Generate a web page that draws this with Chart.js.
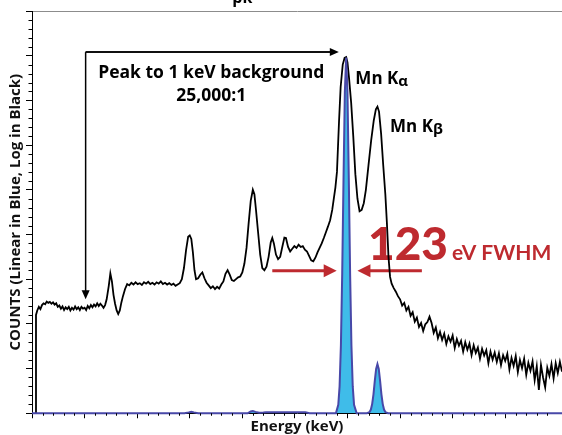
<!DOCTYPE html>
<html>
<head>
<meta charset="utf-8">
<script src="https://cdn.jsdelivr.net/npm/chart.js@4.4.1/dist/chart.umd.min.js"></script>
<style>
  html, body { margin: 0; padding: 0; background: #fff; }
</style>
</head>
<body>
<canvas id="spectrumChart" width="562" height="435"></canvas>
<script>
// black trace (log display) - energy in keV, counts in axis units
const logEnergy = [
  0.07, 0.076, 0.10, 0.13, 0.16, 0.19, 0.22, 0.25, 0.28, 0.31,
  0.34, 0.37, 0.40, 0.43, 0.46, 0.49, 0.52, 0.55, 0.58, 0.61,
  0.64, 0.67, 0.70, 0.73, 0.76, 0.79, 0.82, 0.85, 0.88, 0.91,
  0.94, 0.97, 1.00, 1.03, 1.06, 1.09, 1.12, 1.15, 1.18, 1.21,
  1.24, 1.27, 1.30, 1.33, 1.36, 1.39, 1.42, 1.46, 1.49, 1.52,
  1.55, 1.58, 1.61, 1.64, 1.67, 1.70, 1.73, 1.77, 1.81, 1.85,
  1.89, 1.93, 1.97, 2.01, 2.05, 2.09, 2.13, 2.17, 2.21, 2.25,
  2.29, 2.33, 2.37, 2.41, 2.45, 2.49, 2.53, 2.57, 2.61, 2.65,
  2.69, 2.73, 2.77, 2.81, 2.85, 2.89, 2.93, 2.97, 3.00, 3.03,
  3.06, 3.09, 3.12, 3.16, 3.20, 3.24, 3.28, 3.32, 3.36, 3.40,
  3.44, 3.48, 3.52, 3.56, 3.60, 3.64, 3.68, 3.72, 3.76, 3.80,
  3.84, 3.88, 3.92, 3.96, 4.00, 4.04, 4.08, 4.12, 4.16, 4.20,
  4.23, 4.26, 4.30, 4.34, 4.38, 4.42, 4.46, 4.50, 4.54, 4.57,
  4.60, 4.64, 4.68, 4.72, 4.76, 4.80, 4.83, 4.87, 4.91, 4.95,
  4.99, 5.03, 5.07, 5.11, 5.15, 5.19, 5.23, 5.27, 5.31, 5.35,
  5.39, 5.43, 5.47, 5.51, 5.55, 5.59, 5.63, 5.67, 5.71, 5.74,
  5.77, 5.80, 5.84, 5.87, 5.91, 5.945, 5.975, 6.00, 6.03, 6.07,
  6.11, 6.15, 6.19, 6.23, 6.27, 6.31, 6.35, 6.40, 6.45, 6.50,
  6.54, 6.57, 6.60, 6.64, 6.68, 6.72, 6.75, 6.78, 6.81, 6.84,
  6.88, 6.92, 6.96, 7.00, 7.04, 7.08, 7.12, 7.16, 7.20, 7.24,
  7.28, 7.32, 7.36, 7.40, 7.44, 7.48, 7.52, 7.56, 7.60, 7.64,
  7.68, 7.72, 7.76, 7.80, 7.84, 7.88, 7.92, 7.96, 8.00, 8.04,
  8.08, 8.12, 8.16, 8.20, 8.24, 8.28, 8.32, 8.36, 8.40, 8.44,
  8.48, 8.52, 8.56, 8.60, 8.64, 8.68, 8.72, 8.76, 8.80, 8.84,
  8.88, 8.92, 8.96, 9.00, 9.04, 9.08, 9.12, 9.16, 9.20, 9.24,
  9.28, 9.32, 9.36, 9.40, 9.44, 9.48, 9.52, 9.56, 9.60, 9.64,
  9.68, 9.72, 9.76, 9.80, 9.84, 9.88, 9.92, 9.96, 10.00, 10.04,
  10.08
];
const logCounts = [
  0, 2.20, 2.30, 2.38, 2.33, 2.42, 2.46, 2.44, 2.50, 2.47,
  2.49, 2.45, 2.48, 2.43, 2.46, 2.38, 2.41, 2.34, 2.39, 2.31,
  2.37, 2.33, 2.38, 2.30, 2.36, 2.32, 2.39, 2.33, 2.37, 2.31,
  2.38, 2.34, 2.36, 2.31, 2.40, 2.35, 2.42, 2.37, 2.43, 2.39,
  2.46, 2.40, 2.45, 2.41, 2.36, 2.42, 2.55, 2.85, 3.13, 2.95,
  2.65, 2.45, 2.30, 2.22, 2.30, 2.48, 2.62, 2.78, 2.89, 2.86,
  2.92, 2.88, 2.93, 2.89, 2.91, 2.87, 2.93, 2.90, 2.94, 2.89,
  2.92, 2.88, 2.93, 2.90, 2.95, 2.89, 2.92, 2.88, 2.91, 2.87,
  2.90, 2.85, 2.88, 2.91, 3.00, 3.25, 3.65, 3.95, 3.98, 3.90,
  3.60, 3.20, 3.00, 3.02, 3.10, 3.15, 3.02, 2.92, 2.86, 2.80,
  2.84, 2.78, 2.83, 2.79, 2.88, 2.95, 3.12, 3.20, 3.10, 2.98,
  2.96, 3.00, 3.04, 3.06, 3.15, 3.35, 3.70, 4.25, 4.75, 5.00,
  4.90, 4.55, 4.05, 3.55, 3.25, 3.20, 3.28, 3.50, 3.82, 3.92,
  3.80, 3.55, 3.45, 3.50, 3.72, 3.93, 3.92, 3.72, 3.62, 3.68,
  3.74, 3.70, 3.77, 3.72, 3.74, 3.66, 3.62, 3.52, 3.42, 3.40,
  3.48, 3.60, 3.70, 3.80, 3.92, 4.05, 4.18, 4.32, 4.55, 4.80,
  5.05, 5.40, 6.55, 7.30, 7.80, 7.95, 7.97, 7.85, 7.50, 6.95,
  6.20, 5.35, 4.80, 4.52, 4.55, 4.70, 5.00, 5.55, 6.10, 6.55,
  6.80, 6.86, 6.75, 6.25, 5.55, 4.90, 4.25, 3.50, 3.05, 2.90,
  2.80, 2.72, 2.62, 2.55, 2.41, 2.47, 2.30, 2.38, 2.18, 2.26,
  2.05, 2.14, 1.93, 2.02, 1.84, 1.99, 2.04, 2.16, 2.02, 1.80,
  1.92, 1.68, 1.82, 1.64, 1.78, 1.55, 1.72, 1.60, 1.74, 1.46,
  1.66, 1.51, 1.62, 1.38, 1.59, 1.42, 1.56, 1.30, 1.52, 1.35,
  1.47, 1.22, 1.44, 1.29, 1.41, 1.12, 1.38, 1.20, 1.36, 1.15,
  1.34, 1.08, 1.30, 1.17, 1.33, 0.98, 1.24, 1.06, 1.28, 0.92,
  1.19, 1.01, 1.22, 0.86, 1.13, 0.95, 1.16, 0.74, 1.05, 0.52,
  1.08, 0.80, 0.58, 1.02, 0.84, 1.10, 0.78, 1.12, 0.90, 1.15,
  0.93
];

// blue trace (linear display)
const linEnergy = [
  0, 2.90, 2.98, 3.03, 3.08, 3.16, 4.10, 4.16, 4.20, 4.25,
  4.32, 4.40, 4.45, 5.20, 5.28, 5.78,
  5.825, 5.85, 5.875, 5.90, 5.925, 5.95, 5.975, 6.00, 6.025, 6.05, 6.075, 6.10, 6.125,
  6.175, 6.37,
  6.42, 6.445, 6.47, 6.495, 6.52, 6.545, 6.57, 6.595, 6.62, 6.645, 6.67, 6.695, 6.72,
  6.77, 10.08
];
const linCounts = [
  0, 0, 0.02, 0.035, 0.02, 0, 0, 0.04, 0.05, 0.03,
  0.01, 0.015, 0.02, 0.02, 0, 0,
  0.19, 0.60, 1.52, 3.14, 5.27, 7.18, 7.96, 7.18, 5.27, 3.14, 1.52, 0.60, 0.19,
  0, 0,
  0.027, 0.083, 0.21, 0.43, 0.73, 0.99, 1.10, 0.99, 0.73, 0.43, 0.21, 0.083, 0.027,
  0, 0
];

const FONT = '"Open Sans", Lato, sans-serif';
const RED_FONT = 'Lato, "Open Sans", sans-serif';
const RED = '#be2a2f';

function toPoints(xs, ys) {
  return xs.map((x, i) => ({ x: x, y: ys[i] }));
}

// short minor ticks (5 per division) on both axes
const minorTicks = {
  id: 'minorTicks',
  afterDraw(chart) {
    const { ctx, scales: { x, y } } = chart;
    ctx.save();
    ctx.strokeStyle = '#000';
    ctx.lineWidth = 1;
    ctx.beginPath();
    for (let i = 1; i <= 50; i++) {
      if (i % 5 === 0) continue;
      const v = i / 5;
      if (v > x.max) break;
      const px = Math.round(x.getPixelForValue(v)) + 0.5;
      ctx.moveTo(px, y.bottom);
      ctx.lineTo(px, y.bottom + 2.5);
    }
    for (let i = 1; i < 45; i++) {
      if (i % 5 === 0) continue;
      const py = Math.round(y.getPixelForValue(i / 5)) + 0.5;
      ctx.moveTo(x.left - 3.5, py);
      ctx.lineTo(x.left, py);
    }
    ctx.stroke();
    ctx.restore();
  }
};

function arrow(ctx, x1, y1, x2, y2, len, half) {
  const a = Math.atan2(y2 - y1, x2 - x1);
  ctx.beginPath();
  ctx.moveTo(x1, y1);
  ctx.lineTo(x2 - Math.cos(a) * len * 0.8, y2 - Math.sin(a) * len * 0.8);
  ctx.stroke();
  ctx.beginPath();
  ctx.moveTo(x2, y2);
  ctx.lineTo(x2 - Math.cos(a) * len - Math.sin(a) * half, y2 - Math.sin(a) * len + Math.cos(a) * half);
  ctx.lineTo(x2 - Math.cos(a) * len + Math.sin(a) * half, y2 - Math.sin(a) * len - Math.cos(a) * half);
  ctx.closePath();
  ctx.fill();
}

// red FWHM marker sits under the traces
const fwhmLabel = {
  id: 'fwhmLabel',
  beforeDatasetsDraw(chart) {
    const { ctx, scales: { x, y } } = chart;
    ctx.save();
    ctx.strokeStyle = RED;
    ctx.fillStyle = RED;
    ctx.lineWidth = 3;
    const ay = y.getPixelForValue(3.19);
    arrow(ctx, x.getPixelForValue(4.57), ay, x.getPixelForValue(5.795), ay, 13, 6.5);
    arrow(ctx, x.getPixelForValue(7.415), ay, x.getPixelForValue(6.19), ay, 13, 6.5);
    ctx.textBaseline = 'alphabetic';
    ctx.textAlign = 'left';
    const by = y.getPixelForValue(3.42);
    ctx.font = '900 46px ' + RED_FONT;
    ctx.fillText('123', x.getPixelForValue(6.39), by);
    ctx.font = 'bold 21px ' + RED_FONT;
    ctx.fillText('eV FWHM', x.getPixelForValue(7.99), by);
    ctx.restore();
  }
};

// black labels on top
const peakLabels = {
  id: 'peakLabels',
  afterDatasetsDraw(chart) {
    const { ctx, scales: { x, y } } = chart;
    ctx.save();
    ctx.strokeStyle = '#000';
    ctx.fillStyle = '#000';
    ctx.lineWidth = 1.5;
    const cx = x.getPixelForValue(1.02);
    const cy = y.getPixelForValue(8.08);
    ctx.beginPath();
    ctx.moveTo(cx, cy);
    ctx.lineTo(x.getPixelForValue(5.7), cy);
    ctx.stroke();
    arrow(ctx, cx, cy, x.getPixelForValue(5.835), cy, 9, 4);
    arrow(ctx, cx, cy, cx, y.getPixelForValue(2.55), 9, 4);

    ctx.font = 'bold 17.5px ' + FONT;
    ctx.textAlign = 'center';
    ctx.textBaseline = 'alphabetic';
    ctx.fillText('Peak to 1 keV background', x.getPixelForValue(3.41), y.getPixelForValue(7.49));
    ctx.fillText('25,000:1', x.getPixelForValue(3.41), y.getPixelForValue(6.98));

    ctx.textAlign = 'left';
    const lines = [['Mn K', '\u03b1', 6.15, 7.36], ['Mn K', '\u03b2', 6.81, 6.29]];
    lines.forEach(([t, s, e, v]) => {
      const px = x.getPixelForValue(e);
      const py = y.getPixelForValue(v);
      ctx.font = 'bold 17px ' + FONT;
      ctx.fillText(t, px, py);
      const w = ctx.measureText(t).width;
      ctx.font = 'bold 15px ' + FONT;
      ctx.fillText(s, px + w, py + 2);
    });

    // clipped title remnant at the very top
    ctx.font = 'bold 16px ' + FONT;
    ctx.textAlign = 'center';
    ctx.fillText('pk', x.getPixelForValue(4.0), 3);
    ctx.restore();
  }
};

const ctx = document.getElementById('spectrumChart').getContext('2d');
const spectrumChart = new Chart(ctx, {
  type: 'line',
  data: {
    datasets: [{
      label: 'Log (black)',
      data: toPoints(logEnergy, logCounts),
      borderColor: '#000',
      borderWidth: 1.8,
      pointRadius: 0,
      fill: false,
      tension: 0,
      order: 2
    }, {
      label: 'Linear (blue)',
      data: toPoints(linEnergy, linCounts),
      borderColor: '#4848a8',
      backgroundColor: '#3fbce9',
      borderWidth: 2,
      pointRadius: 0,
      fill: 'origin',
      tension: 0,
      clip: false,
      order: 1
    }]
  },
  options: {
    responsive: false,
    animation: false,
    events: [],
    layout: { padding: { left: 4, top: 11, right: 0, bottom: 0 } },
    plugins: {
      legend: { display: false },
      tooltip: { enabled: false }
    },
    scales: {
      x: {
        type: 'linear',
        min: 0,
        max: 10.08,
        afterBuildTicks: s => { s.ticks = s.ticks.filter(t => Number.isInteger(t.value)); },
        ticks: { display: false, stepSize: 1 },
        grid: { drawOnChartArea: false, tickLength: 5, tickColor: '#000' },
        border: { color: '#000' },
        title: {
          display: true,
          text: 'Energy (keV)',
          color: '#111',
          font: { family: FONT, size: 15, weight: 'bold', lineHeight: 1.05 },
          padding: { top: 1, bottom: 0 }
        }
      },
      y: {
        type: 'linear',
        min: 0,
        max: 9,
        ticks: { display: false, stepSize: 1 },
        grid: {
          color: c => (c.tick && c.tick.value === 9 ? '#8c8c8c' : 'rgba(0,0,0,0)'),
          tickColor: '#000',
          tickLength: 6
        },
        border: { color: '#000' },
        title: {
          display: true,
          text: 'COUNTS (Linear in Blue, Log in Black)',
          color: '#111',
          font: { family: FONT, size: 15, weight: 'bold' },
          padding: { top: 3, bottom: 1 }
        }
      }
    }
  },
  plugins: [minorTicks, fwhmLabel, peakLabels]
});
</script>
</body>
</html>
